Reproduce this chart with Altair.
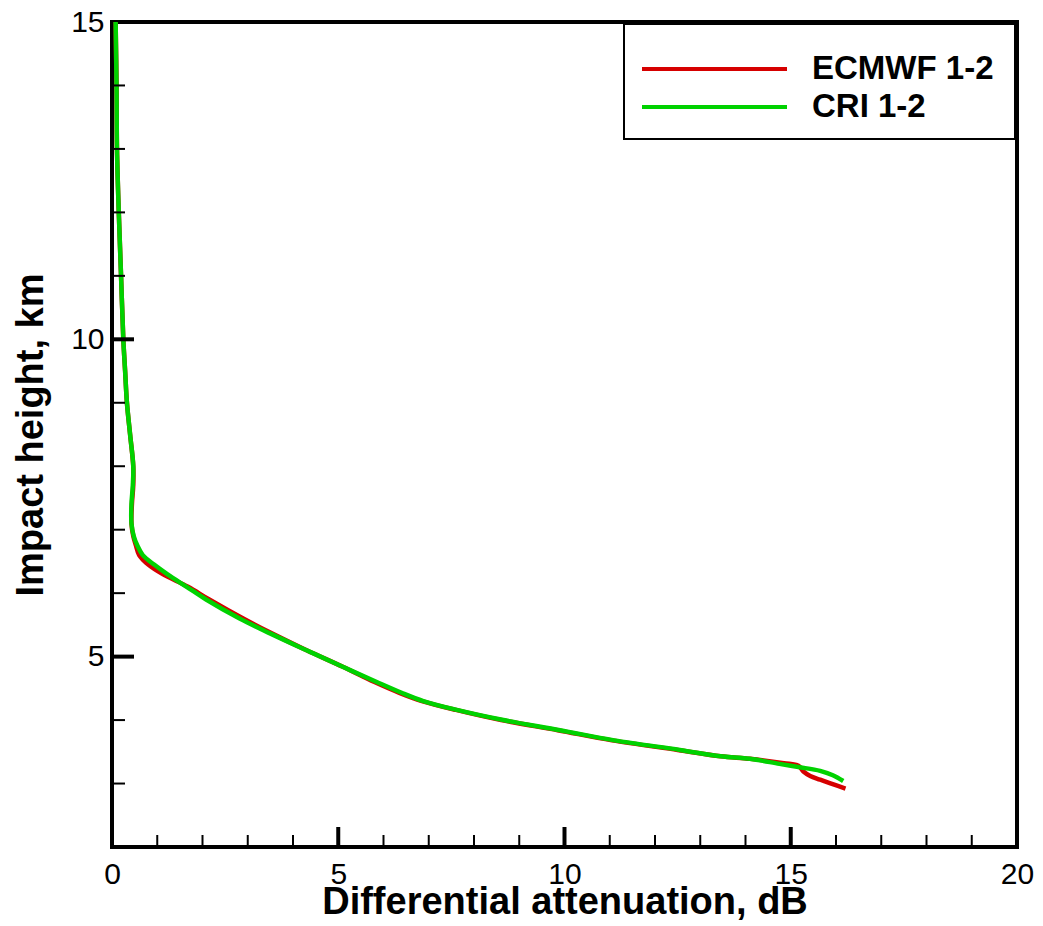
import altair as alt
import pandas as pd

# ---------------- data ----------------
ecmwf_height = [15.0, 14.0, 13.0, 12.0, 11.0, 10.0, 9.5, 9.0, 8.5, 8.0, 7.7, 7.4, 7.1, 6.9,
                6.75, 6.6, 6.45, 6.3, 6.1, 5.9, 5.6, 5.37, 5.1, 4.84, 4.6, 4.43, 4.3, 4.16,
                4.0, 3.84, 3.68, 3.53, 3.43, 3.39, 3.32, 3.28, 3.19, 3.12, 3.06, 2.92]
ecmwf_atten = [0.08, 0.10, 0.11, 0.15, 0.20, 0.25, 0.29, 0.33, 0.40, 0.47, 0.47, 0.44, 0.43, 0.47,
               0.53, 0.60, 0.80, 1.12, 1.68, 2.15, 2.90, 3.52, 4.30, 5.10, 5.80, 6.35, 6.85, 7.60,
               8.60, 9.85, 11.05, 12.50, 13.45, 14.10, 14.85, 15.17, 15.28, 15.43, 15.65, 16.21]

cri_height = [15.0, 14.0, 13.0, 12.0, 11.0, 10.0, 9.5, 9.0, 8.5, 8.0, 7.7, 7.4, 7.1, 6.9,
              6.75, 6.6, 6.45, 6.3, 6.1, 5.9, 5.6, 5.37, 5.1, 4.84, 4.6, 4.43, 4.3, 4.16,
              4.0, 3.84, 3.68, 3.53, 3.43, 3.39, 3.31, 3.26, 3.20, 3.13, 3.04]
cri_atten = [0.08, 0.10, 0.11, 0.15, 0.20, 0.25, 0.29, 0.33, 0.40, 0.47, 0.46, 0.43, 0.43, 0.48,
             0.56, 0.68, 0.93, 1.22, 1.65, 2.08, 2.82, 3.48, 4.30, 5.10, 5.85, 6.40, 6.88, 7.62,
             8.65, 9.90, 11.10, 12.55, 13.45, 14.10, 14.75, 15.17, 15.65, 15.93, 16.16]

series_names = ["ECMWF 1-2", "CRI 1-2"]
series_colors = ["#d60000", "#00d200"]

x_label_values = [0, 5, 10, 15, 20]
y_label_values = [5, 10, 15]
x_major_ticks = [5, 10, 15]
x_minor_ticks = [1, 2, 3, 4, 6, 7, 8, 9, 11, 12, 13, 14, 16, 17, 18, 19]
y_major_ticks = [5, 10]
y_minor_ticks = [3, 4, 6, 7, 8, 9, 11, 12, 13, 14]

W, H = 905, 825
FONT = "Liberation Sans"

series_data = [(series_names[0], ecmwf_height, ecmwf_atten),
               (series_names[1], cri_height, cri_atten)]

xscale = alt.Scale(domain=[0, 20], nice=False, zero=False)
yscale = alt.Scale(domain=[2, 15], nice=False, zero=False)

x_axis = alt.Axis(values=x_label_values, ticks=False, domain=False, grid=False,
                  labelFont=FONT, labelFontSize=30, labelPadding=12, labelColor="black",
                  labelFlush=False, labelOverlap=False, format="d",
                  titleFont=FONT, titleFontSize=38,
                  titleFontWeight="bold", titleColor="black", titleX=W / 2, titleY=66,
                  titleAlign="center", titleBaseline="alphabetic")
y_axis = alt.Axis(values=y_label_values, ticks=False, domain=False, grid=False,
                  labelFont=FONT, labelFontSize=30, labelPadding=8, labelColor="black",
                  labelFlush=False, labelOverlap=False, format="d",
                  titleFont=FONT, titleFontSize=38,
                  titleFontWeight="bold", titleColor="black", titleX=-70, titleY=H / 2,
                  titleAngle=270, titleAlign="center", titleBaseline="alphabetic")
X_TITLE = "Differential attenuation, dB"
Y_TITLE = "Impact height, km"


def X(field):
    return alt.X(field, scale=xscale, axis=x_axis, title=X_TITLE)


def Y(field):
    return alt.Y(field, scale=yscale, axis=y_axis, title=Y_TITLE)


layers = []
for i, (name, hs, xs) in enumerate(series_data):
    df = pd.DataFrame({"atten": xs, "height": hs, "idx": list(range(len(hs)))})
    layers.append(
        alt.Chart(df).mark_line(strokeWidth=4.5, interpolate="catmull-rom",
                                color=series_colors[i]).encode(
            x=X("atten:Q"), y=Y("height:Q"), order=alt.Order("idx:Q"))
    )


# inward ticks
def xticks(vals, length, width):
    return alt.Chart(pd.DataFrame({"v": vals})).mark_rule(color="black", strokeWidth=width).encode(
        x=X("v:Q"), y=alt.value(H), y2=alt.value(H - length))


def yticks(vals, length, width):
    return alt.Chart(pd.DataFrame({"v": vals})).mark_rule(color="black", strokeWidth=width).encode(
        y=Y("v:Q"), x=alt.value(0), x2=alt.value(length))


layers += [xticks(x_major_ticks, 20, 4), xticks(x_minor_ticks, 12, 2),
           yticks(y_major_ticks, 22, 4), yticks(y_minor_ticks, 13, 2)]

# legend box
one = pd.DataFrame({"k": [0]})
layers.append(alt.Chart(one).mark_rect(fill="white", stroke="black", strokeWidth=2).encode(
    x=alt.value(512), x2=alt.value(W - 2), y=alt.value(2), y2=alt.value(117)))
for i, name in enumerate(series_names):
    layers.append(alt.Chart(one).mark_rule(color=series_colors[i], strokeWidth=4).encode(
        x=alt.value(530), x2=alt.value(675), y=alt.value(47 + 38 * i)))
    layers.append(alt.Chart(one).mark_text(align="left", baseline="alphabetic", font=FONT,
                                           fontSize=33, fontWeight="bold", color="black",
                                           text=name).encode(
        x=alt.value(700), y=alt.value(57 + 38 * i)))

chart = alt.layer(*layers).properties(
    width=W, height=H,
    autosize=alt.AutoSizeParams(type="none"),
    padding={"left": 112, "top": 22, "right": 26, "bottom": 79},
    background="white",
).configure_view(stroke="black", strokeWidth=4)

chart.save("out.html", embed_options={"renderer": "svg", "actions": False})
